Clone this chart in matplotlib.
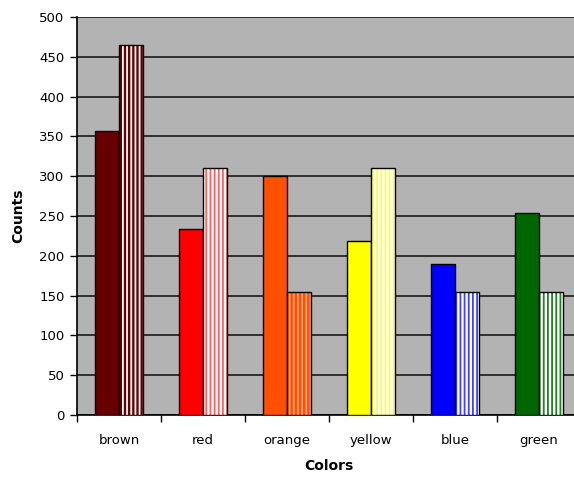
import matplotlib
matplotlib.use("Agg")
import matplotlib.pyplot as plt
import numpy as np

categories = ["brown", "red", "orange", "yellow", "blue", "green"]
solid_counts = [357, 234, 300, 219, 190, 254]
striped_counts = [465, 310, 155, 310, 155, 155]
solid_colors = ["#660000", "#FF0000", "#FF4F00", "#FFFF00", "#0000FF", "#006600"]
# (face colour, stripe colour) for the striped bars
stripe_face = ["#660000", "#FFFFFF", "#FF4F00", "#FFFFFF", "#FFFFFF", "#FFFFFF"]
stripe_line = ["#FFFFFF", "#FF6060", "#FFA070", "#FFFF40", "#4040FF", "#208020"]
y_ticks = list(range(0, 501, 50))

plt.rcParams["font.family"] = ["DejaVu Sans"]
plt.rcParams["hatch.linewidth"] = 1.3

fig = plt.figure(figsize=(5.74, 4.83), dpi=100)
ax = fig.add_axes([77 / 574, 1 - 415 / 483, 504 / 574, 398 / 483])
ax.set_facecolor("#B3B3B3")

x = np.arange(len(categories))
w = 0.28

for i in range(len(categories)):
    ax.bar(x[i] - w / 2, solid_counts[i], w, color=solid_colors[i],
           edgecolor="black", linewidth=1, zorder=3)
    ax.bar(x[i] + w / 2, striped_counts[i], w, color=stripe_face[i],
           edgecolor=stripe_line[i], hatch="||||", linewidth=0, zorder=3)
    ax.bar(x[i] + w / 2, striped_counts[i], w, fill=False,
           edgecolor="black", linewidth=1, zorder=4)

ax.set_xlim(-0.5, len(categories) - 0.5)
ax.set_ylim(0, 500)
ax.set_yticks(y_ticks)
ax.yaxis.grid(True, color="#303030", linewidth=1.4, zorder=1)
ax.set_axisbelow(True)

ax.set_xticks(np.arange(len(categories) + 1) - 0.5)
ax.set_xticklabels([])
ax.set_xticks(x, minor=True)
ax.set_xticklabels(categories, minor=True)
ax.tick_params(axis="x", which="minor", length=0, pad=14, labelsize=9.5)
ax.tick_params(axis="x", which="major", length=5, width=1, color="black")
ax.tick_params(axis="y", length=5, width=1, labelsize=9.5, pad=4)

for side in ["top", "right"]:
    ax.spines[side].set_visible(False)
ax.spines["left"].set_linewidth(1.2)
ax.spines["bottom"].set_linewidth(1.2)

ax.set_xlabel("Colors", fontsize=10, fontweight="bold", labelpad=8)
ax.set_ylabel("Counts", fontsize=10, fontweight="bold", labelpad=10)

fig.savefig("out.png", dpi=100)
